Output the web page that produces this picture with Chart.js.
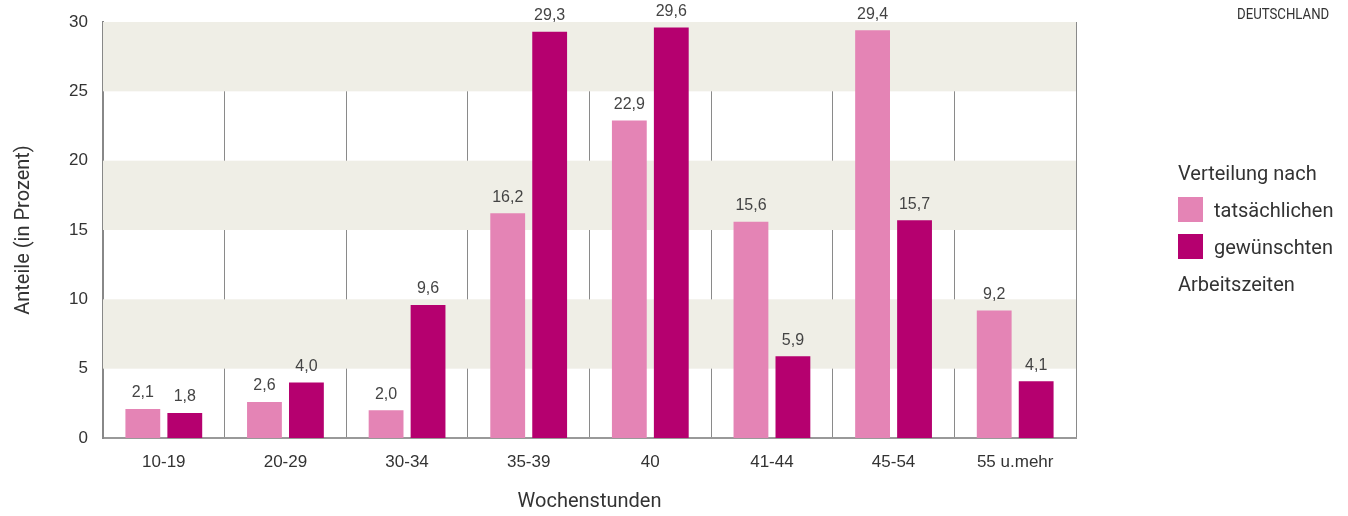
<!DOCTYPE html>
<html>
<head>
<meta charset="utf-8">
<script src="https://cdn.jsdelivr.net/npm/chart.js@4"></script>
<style>
  body { margin: 0; background: #fff; }
  #wrap { position: relative; width: 1348px; height: 516px; }
  #legend { position: absolute; left: 1178px; top: 154px; font-family: "Liberation Sans Narrow", "Roboto", sans-serif; font-size: 20px; color: #333; }
  #legend .row { height: 37px; line-height: 28px; display: flex; align-items: center; }
  #legend .sw { width: 25px; height: 25px; margin-right: 11px; }
  #brand { position: absolute; left: 1237px; top: 5px; font-family: "Liberation Sans Narrow", "Roboto", sans-serif; font-size: 15px; color: #333; transform: scaleX(0.88); transform-origin: left top; }
</style>
</head>
<body>
<div id="wrap">
  <canvas id="chart" width="1348" height="516"></canvas>
  <div id="brand">DEUTSCHLAND</div>
  <div id="legend"></div>
</div>
<script>
// Chart data
const categories = ["10-19", "20-29", "30-34", "35-39", "40", "41-44", "45-54", "55 u.mehr"];
const tatsaechlich = [2.1, 2.6, 2.0, 16.2, 22.9, 15.6, 29.4, 9.2];
const gewuenscht = [1.8, 4.0, 9.6, 29.3, 29.6, 5.9, 15.7, 4.1];
const yTicks = [0, 5, 10, 15, 20, 25, 30];
const bands = [[5, 10], [15, 20], [25, 30]];
const seriesNames = ["tatsächlichen", "gewünschten"];

const pink = "#e484b5";
const magenta = "#b5006f";

// Beige horizontal bands behind the bars
const bandPlugin = {
    id: "bands",
    beforeDatasetsDraw(chart) {
        const { ctx, chartArea, scales } = chart;
        ctx.save();
        ctx.fillStyle = "#efeee6";
        bands.forEach(([lo, hi]) => {
            const top = scales.y.getPixelForValue(hi);
            const bottom = scales.y.getPixelForValue(lo);
            ctx.fillRect(chartArea.left, top, chartArea.right - chartArea.left, bottom - top);
        });
        ctx.restore();
    },
};

// Value labels above each bar, German decimal comma
const labelPlugin = {
    id: "valueLabels",
    afterDatasetsDraw(chart) {
        const { ctx } = chart;
        ctx.save();
        ctx.font = "16px 'Liberation Sans', Arial, sans-serif";
        ctx.fillStyle = "#444";
        ctx.textAlign = "center";
        ctx.textBaseline = "bottom";
        chart.data.datasets.forEach((ds, i) => {
            chart.getDatasetMeta(i).data.forEach((bar, j) => {
                ctx.fillText(ds.data[j].toFixed(1).replace(".", ","), bar.x, bar.y - 8);
            });
        });
        ctx.restore();
    },
};

// HTML legend
const legend = document.getElementById("legend");
legend.innerHTML =
    `<div class="row">Verteilung nach</div>` +
    `<div class="row"><span class="sw" style="background:${pink}"></span>${seriesNames[0]}</div>` +
    `<div class="row"><span class="sw" style="background:${magenta}"></span>${seriesNames[1]}</div>` +
    `<div class="row">Arbeitszeiten</div>`;

const ctx = document.getElementById("chart").getContext("2d");
new Chart(ctx, {
    type: "bar",
    data: {
        labels: categories,
        datasets: [
            { label: seriesNames[0], data: tatsaechlich, backgroundColor: pink },
            { label: seriesNames[1], data: gewuenscht, backgroundColor: magenta },
        ],
    },
    options: {
        responsive: false,
        animation: false,
        categoryPercentage: 0.69,
        barPercentage: 0.83,
        layout: { padding: { top: 22, right: 272, left: 0, bottom: 0 } },
        plugins: {
            legend: { display: false },
            tooltip: { enabled: false },
        },
        scales: {
            x: {
                grid: { offset: true, color: "#8a8a8a", lineWidth: 1, drawTicks: false },
                border: { color: "#999", width: 2 },
                ticks: { color: "#333", padding: 14, font: { family: "'Liberation Sans', Arial, sans-serif", size: 17 } },
                title: {
                    display: true,
                    text: "Wochenstunden",
                    color: "#333",
                    padding: { top: 0, bottom: 2 },
                    font: { family: "'Liberation Sans Narrow', Roboto, sans-serif", size: 20 },
                },
                afterFit(scale) { scale.height = 78; },
            },
            y: {
                min: 0,
                max: 30,
                afterBuildTicks(scale) { scale.ticks = yTicks.map((v) => ({ value: v })); },
                grid: { display: false, drawTicks: false },
                border: { color: "#888", width: 2 },
                ticks: { color: "#333", padding: 15, font: { family: "'Liberation Sans', Arial, sans-serif", size: 17 } },
                title: {
                    display: true,
                    text: "Anteile (in Prozent)",
                    color: "#333",
                    padding: { top: 12, bottom: 0 },
                    font: { family: "'Liberation Sans Narrow', Roboto, sans-serif", size: 20 },
                },
                afterFit(scale) {
                    scale.width = 103;
                    scale.paddingTop = 0;
                    scale.paddingBottom = 0;
                },
            },
        },
    },
    plugins: [bandPlugin, labelPlugin],
});
</script>
</body>
</html>
